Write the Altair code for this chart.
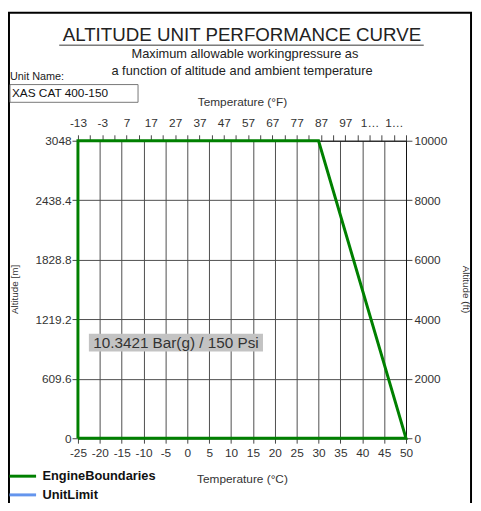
import altair as alt
import pandas as pd

# ---------------- data ----------------
temp_c = [-25, -25, 30, 50, -25]          # Engine boundary polygon, °C
alt_m = [0, 3048, 3048, 0, 0]             # altitude, m
series_names = ["EngineBoundaries", "UnitLimit"]
series_colors = ["#008000", "#6495ED"]

c_ticks = list(range(-25, 51, 5))
m_ticks = [0, 609.6, 1219.2, 1828.8, 2438.4, 3048]
f_ticks = list(range(-13, 123, 5))
ft_ticks = [0, 2000, 4000, 6000, 8000, 10000]

label_text = "10.3421 Bar(g) / 150 Psi"
label_box_c = [-22.5, 17.3]
label_box_m = [888, 1070]

title_text = "ALTITUDE UNIT PERFORMANCE CURVE"
subtitle_1 = "Maximum allowable workingpressure as"
subtitle_2 = "a function of altitude and ambient temperature"
unit_label = "Unit Name:"
unit_name = "XAS CAT 400-150"

W, H = 333, 302
FONT = "Liberation Sans"

# ---------------- main layer (°C / m) ----------------
df = pd.DataFrame({"c": temp_c, "m": alt_m,
                   "order": list(range(len(temp_c))),
                   "series": [series_names[0]] * len(temp_c)})

xc = alt.Scale(domain=[c_ticks[0], c_ticks[-1]], nice=False, zero=False)
ym = alt.Scale(domain=[m_ticks[0], m_ticks[-1]], nice=False, zero=False)

line = alt.Chart(df).mark_line(strokeWidth=3).encode(
    x=alt.X("c:Q", scale=xc,
            axis=alt.Axis(orient="bottom", values=c_ticks, tickCount=200,
                          labelExpr="'' + datum.value",
                          title="Temperature (°C)", grid=True, tickSize=5,
                          labelPadding=5, titlePadding=15, labelFlush=False,
                          titleFontSize=12, titleFontWeight="normal", labelOverlap=False)),
    y=alt.Y("m:Q", scale=ym,
            axis=alt.Axis(orient="left", values=m_ticks, tickCount=200,
                          labelExpr="'' + datum.value", labelFlush=False,
                          title=None, grid=True, tickSize=6, labelPadding=1,
                          labelOverlap=False)),
    color=alt.Color("series:N",
                    scale=alt.Scale(domain=series_names, range=series_colors),
                    legend=alt.Legend(orient="none", legendX=-67.5, legendY=329,
                                      title=None, symbolType="M-1.35,0H1.35",
                                      symbolSize=400, symbolStrokeWidth=3,
                                      labelFontWeight="bold", labelFontSize=13,
                                      labelOffset=8.5, rowPadding=-1, padding=0,
                                      labelColor="#111")),
    order="order:Q",
)

box_df = pd.DataFrame({"c": [label_box_c[0]], "c2": [label_box_c[1]],
                       "m": [label_box_m[0]], "m2": [label_box_m[1]],
                       "cm": [(label_box_c[0] + label_box_c[1]) / 2],
                       "mm": [(label_box_m[0] + label_box_m[1]) / 2],
                       "t": [label_text]})
box = alt.Chart(box_df).mark_rect(fill="#c3c3c3").encode(
    x=alt.X("c:Q", scale=xc), x2="c2:Q",
    y=alt.Y("m:Q", scale=ym), y2="m2:Q")
box_txt = alt.Chart(box_df).mark_text(fontSize=15.5, color="#333", font=FONT).encode(
    x=alt.X("cm:Q", scale=xc), y=alt.Y("mm:Q", scale=ym), text="t:N")

main = alt.layer(box, line, box_txt)

# ---------------- secondary axes (°F / ft) ----------------
df2 = pd.DataFrame({"f": [f_ticks[0], f_ticks[-1]], "ft": [ft_ticks[0], ft_ticks[-1]]})
sec = alt.Chart(df2).mark_point(opacity=0).encode(
    x=alt.X("f:Q", scale=alt.Scale(domain=[f_ticks[0], f_ticks[-1]], nice=False, zero=False),
            axis=alt.Axis(orient="top", values=f_ticks, tickCount=200, grid=False, tickSize=6,
                          labelPadding=5, titlePadding=9, title="Temperature (°F)",
                          titleFontSize=12, titleFontWeight="normal", labelOverlap=False,
                          labelFlush=False,
                          labelExpr="(datum.value + 13) % 10 == 0 ? (datum.value >= 100 ? '1…' : '' + datum.value) : ''")),
    y=alt.Y("ft:Q", scale=alt.Scale(domain=[ft_ticks[0], ft_ticks[-1]], nice=False, zero=False),
            axis=alt.Axis(orient="right", values=ft_ticks, tickCount=200, format="d", title=None,
                          grid=False, tickSize=6, labelPadding=2, labelOverlap=False,
                          labelFlush=False)),
)

# ---------------- decorations ----------------
one = alt.Data(values=[{}])


def txt(s, x, y, size, **kw):
    return alt.Chart(one).mark_text(text=s, fontSize=size, font=FONT, **kw).encode(
        x=alt.value(x), y=alt.value(y))


frame = alt.Chart(one).mark_rect(fillOpacity=0, stroke="#000", strokeWidth=2).encode(
    x=alt.value(-70), x2=alt.value(399), y=alt.value(-130), y2=alt.value(420))
underline = alt.Chart(one).mark_rule(color="#333", strokeWidth=1).encode(
    x=alt.value(-19), x2=alt.value(351), y=alt.value(-97))
name_box = alt.Chart(one).mark_rect(fill="white", stroke="#777", strokeWidth=1).encode(
    x=alt.value(-69), x2=alt.value(61), y=alt.value(-57), y2=alt.value(-39))

decor = [
    frame,
    txt(title_text, W / 2, -107, 19, color="#222", baseline="middle"),
    underline,
    txt(subtitle_1, W / 2 + 3, -88, 13, color="#222", baseline="middle"),
    txt(subtitle_2, W / 2, -71, 13, color="#222", baseline="middle"),
    txt(unit_label, -69, -65, 11, color="#222", baseline="middle", align="left"),
    name_box,
    txt(unit_name, -67, -48, 12, color="#111", baseline="middle", align="left"),
    txt("Altitude [m]", -64, 151, 10, color="#333", baseline="middle", angle=270),
    txt("Altitude (ft)", 394, 151, 10, color="#333", baseline="middle", angle=90),
]

chart = alt.layer(main, sec, *decor).resolve_scale(
    x="independent", y="independent"
).properties(
    width=W, height=H, autosize="none",
    padding={"left": 71, "top": 131, "right": 68, "bottom": 62},
).configure(font=FONT).configure_view(stroke=None).configure_axis(
    labelFontSize=12, labelColor="#333", tickColor="#444", domainColor="#111",
    gridColor="#4d4d4d", gridOpacity=1, gridWidth=1, titleColor="#333",
    labelFont=FONT, titleFont=FONT,
)

chart.save("out.html", embed_options={"renderer": "svg", "actions": False})
